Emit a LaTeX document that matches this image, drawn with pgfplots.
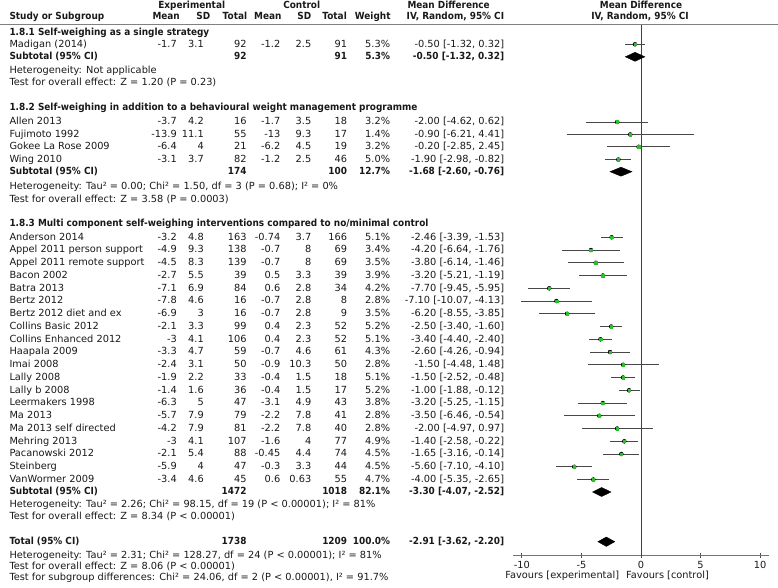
\documentclass[border=0pt]{standalone}
\usepackage{fontspec}
\setmainfont{DejaVu Sans}[BoldFeatures={FakeStretch=0.91}]
\usepackage{pgfplots}
\usepackage{pgfplotstable}
\pgfplotsset{compat=1.18}
\definecolor{boxgreen}{RGB}{45,190,45}
\definecolor{txt}{RGB}{25,25,25}

% py = row position from the top (px); md, lo, hi = mean difference and 95% CI
\pgfplotstableread{
py md lo hi w
44.3 -0.50 -1.32 0.32 5.3
122.0 -2.00 -4.62 0.62 3.2
134.5 -0.90 -6.21 4.41 1.4
146.8 -0.20 -2.85 2.45 3.2
159.6 -1.90 -2.98 -0.82 5.0
237.3 -2.46 -3.39 -1.53 5.1
250.05 -4.20 -6.64 -1.76 3.4
262.8 -3.80 -6.14 -1.46 3.5
275.55 -3.20 -5.21 -1.19 3.9
288.3 -7.70 -9.45 -5.95 4.2
301.05 -7.10 -10.07 -4.13 2.8
313.8 -6.20 -8.55 -3.85 3.5
326.55 -2.50 -3.40 -1.60 5.2
339.3 -3.40 -4.40 -2.40 5.1
352.05 -2.60 -4.26 -0.94 4.3
364.8 -1.50 -4.48 1.48 2.8
377.55 -1.50 -2.52 -0.48 5.1
390.3 -1.00 -1.88 -0.12 5.2
403.05 -3.20 -5.25 -1.15 3.8
415.8 -3.50 -6.46 -0.54 2.8
428.55 -2.00 -4.97 0.97 2.8
441.3 -1.40 -2.58 -0.22 4.9
454.05 -1.65 -3.16 -0.14 4.5
466.8 -5.60 -7.10 -4.10 4.5
479.55 -4.00 -5.35 -2.65 4.7
}\studies

\newcommand\tx[3]{\node[anchor=mid west,inner sep=0pt,text=txt] at (#1,{588-#2}) {#3};}
\newcommand\tr[3]{\node[anchor=mid east,inner sep=0pt,text=txt] at (#1,{588-#2}) {#3};}
\newcommand\tc[3]{\node[anchor=mid,inner sep=0pt,text=txt] at (#1,{588-#2}) {#3};}
\newcommand\row[9]{\tx{9.3}{#1}{#2}\tr{177}{#1}{#3}\tr{204}{#1}{#4}\tr{246.7}{#1}{#5}\tr{280.5}{#1}{#6}\tr{311.5}{#1}{#7}\tr{347.3}{#1}{#8}\tr{390.3}{#1}{#9}}
\newcommand\ci[2]{\tr{504.3}{#1}{#2}}

\begin{document}
\begin{tikzpicture}[x=1pt,y=1pt,font=\fontsize{9.8}{12}\selectfont]
\useasboundingbox (0,0) rectangle (778,588);

\begin{axis}[
  at={(512.9pt,32.3pt)}, anchor=south west,
  scale only axis, width=256.2pt, height=531.2pt,
  xmin=-10.75, xmax=10.75, ymin=32.3, ymax=563.5,
  axis x line=bottom, axis y line=none,
  x axis line style={-, draw=black!55, line width=1.3pt},
  xtick={-10,-5,0,5,10}, xticklabels={-10,-5,0,5,10},
  tick align=center, major tick length=5pt,
  tick style={draw=black!70, line width=0.7pt},
  xticklabel style={font=\fontsize{9.8}{12}\selectfont, text=txt, inner sep=1pt, yshift=-1.5pt},
  clip=false,
]
\addplot[draw=black!75, line width=0.9pt] coordinates {(0,32.3) (0,563.5)};
% confidence intervals
\addplot[only marks, mark=none, error bars/.cd, x dir=both, x explicit, error mark=none,
  error bar style={draw=black!72, line width=0.9pt}]
  table[x=md, y expr=588-\thisrow{py}, x error plus expr=\thisrow{hi}-\thisrow{md}, x error minus expr=\thisrow{md}-\thisrow{lo}] {\studies};
% point estimates
\addplot[only marks, mark=square*, mark size=1.3pt, color=boxgreen]
  table[x=md, y expr=588-\thisrow{py}] {\studies};
% pooled estimates (diamonds)
\addplot[fill=black, draw=black] coordinates {(-1.32,531.2) (-0.50,535.7) (0.32,531.2) (-0.50,526.7)} -- cycle;
\addplot[fill=black, draw=black] coordinates {(-2.60,416.3) (-1.68,420.8) (-0.76,416.3) (-1.68,411.8)} -- cycle;
\addplot[fill=black, draw=black] coordinates {(-4.07,96.0) (-3.30,100.5) (-2.52,96.0) (-3.30,91.5)} -- cycle;
\addplot[fill=black, draw=black] coordinates {(-3.62,46.3) (-2.91,51.0) (-2.20,46.3) (-2.91,41.6)} -- cycle;
\end{axis}

\draw[draw=black!50, line width=1.4pt] (0,{588-24.5}) -- (778,{588-24.5});

% headers
\tc{191.7}{5.7}{\textbf{Experimental}}
\tc{301.7}{5.7}{\textbf{Control}}
\tx{407.3}{5.7}{\textbf{Mean Difference}}
\tc{641}{5.7}{\textbf{Mean Difference}}
\tx{9.3}{16.7}{\textbf{Study or Subgroup}}
\tr{180}{16.7}{\textbf{Mean}}
\tr{210.5}{16.7}{\textbf{SD}}
\tr{247.3}{16.7}{\textbf{Total}}
\tr{281.7}{16.7}{\textbf{Mean}}
\tr{311.5}{16.7}{\textbf{SD}}
\tr{347}{16.7}{\textbf{Total}}
\tr{390.7}{16.7}{\textbf{Weight}}
\tr{504.3}{16.7}{\textbf{IV, Random, 95\% CI}}
\tc{640}{16.7}{\textbf{IV, Random, 95\% CI}}

% group 1
\tx{9.3}{32.3}{\textbf{1.8.1 Self-weighing as a single strategy}}
\row{44.3}{Madigan (2014)}{-1.7}{3.1}{92}{-1.2}{2.5}{91}{5.3\%}\ci{44.3}{-0.50 [-1.32, 0.32]}
\tx{9.3}{56.5}{\textbf{Subtotal (95\% CI)}}\tr{246.7}{56.5}{\textbf{92}}\tr{347.3}{56.5}{\textbf{91}}\tr{390.3}{56.5}{\textbf{5.3\%}}\ci{56.5}{\textbf{-0.50 [-1.32, 0.32]}}
\tx{9.3}{71}{Heterogeneity: Not applicable}
\tx{9.3}{82.5}{Test for overall effect: Z = 1.20 (P = 0.23)}

% group 2
\tx{9.3}{107.5}{\textbf{1.8.2 Self-weighing in addition to a behavioural weight management programme}}
\row{122.0}{Allen 2013}{-3.7}{4.2}{16}{-1.7}{3.5}{18}{3.2\%}\ci{122.0}{-2.00 [-4.62, 0.62]}
\row{134.5}{Fujimoto 1992}{-13.9}{11.1}{55}{-13}{9.3}{17}{1.4\%}\ci{134.5}{-0.90 [-6.21, 4.41]}
\row{146.8}{Gokee La Rose 2009}{-6.4}{4}{21}{-6.2}{4.5}{19}{3.2\%}\ci{146.8}{-0.20 [-2.85, 2.45]}
\row{159.6}{Wing 2010}{-3.1}{3.7}{82}{-1.2}{2.5}{46}{5.0\%}\ci{159.6}{-1.90 [-2.98, -0.82]}
\tx{9.3}{171.7}{\textbf{Subtotal (95\% CI)}}\tr{246.7}{171.7}{\textbf{174}}\tr{347.3}{171.7}{\textbf{100}}\tr{390.3}{171.7}{\textbf{12.7\%}}\ci{171.7}{\textbf{-1.68 [-2.60, -0.76]}}
\tx{9.3}{186.7}{Heterogeneity: Tau² = 0.00; Chi² = 1.50, df = 3 (P = 0.68); I² = 0\%}
\tx{9.3}{200}{Test for overall effect: Z = 3.58 (P = 0.0003)}

% group 3
\tx{9.3}{223.3}{\textbf{1.8.3 Multi component self-weighing interventions compared to no/minimal control}}
\row{237.3}{Anderson 2014}{-3.2}{4.8}{163}{-0.74}{3.7}{166}{5.1\%}\ci{237.3}{-2.46 [-3.39, -1.53]}
\row{250.05}{Appel 2011 person support}{-4.9}{9.3}{138}{-0.7}{8}{69}{3.4\%}\ci{250.05}{-4.20 [-6.64, -1.76]}
\row{262.8}{Appel 2011 remote support}{-4.5}{8.3}{139}{-0.7}{8}{69}{3.5\%}\ci{262.8}{-3.80 [-6.14, -1.46]}
\row{275.55}{Bacon 2002}{-2.7}{5.5}{39}{0.5}{3.3}{39}{3.9\%}\ci{275.55}{-3.20 [-5.21, -1.19]}
\row{288.3}{Batra 2013}{-7.1}{6.9}{84}{0.6}{2.8}{34}{4.2\%}\ci{288.3}{-7.70 [-9.45, -5.95]}
\row{301.05}{Bertz 2012}{-7.8}{4.6}{16}{-0.7}{2.8}{8}{2.8\%}\ci{301.05}{-7.10 [-10.07, -4.13]}
\row{313.8}{Bertz 2012 diet and ex}{-6.9}{3}{16}{-0.7}{2.8}{9}{3.5\%}\ci{313.8}{-6.20 [-8.55, -3.85]}
\row{326.55}{Collins Basic 2012}{-2.1}{3.3}{99}{0.4}{2.3}{52}{5.2\%}\ci{326.55}{-2.50 [-3.40, -1.60]}
\row{339.3}{Collins Enhanced 2012}{-3}{4.1}{106}{0.4}{2.3}{52}{5.1\%}\ci{339.3}{-3.40 [-4.40, -2.40]}
\row{352.05}{Haapala 2009}{-3.3}{4.7}{59}{-0.7}{4.6}{61}{4.3\%}\ci{352.05}{-2.60 [-4.26, -0.94]}
\row{364.8}{Imai 2008}{-2.4}{3.1}{50}{-0.9}{10.3}{50}{2.8\%}\ci{364.8}{-1.50 [-4.48, 1.48]}
\row{377.55}{Lally 2008}{-1.9}{2.2}{33}{-0.4}{1.5}{18}{5.1\%}\ci{377.55}{-1.50 [-2.52, -0.48]}
\row{390.3}{Lally b 2008}{-1.4}{1.6}{36}{-0.4}{1.5}{17}{5.2\%}\ci{390.3}{-1.00 [-1.88, -0.12]}
\row{403.05}{Leermakers 1998}{-6.3}{5}{47}{-3.1}{4.9}{43}{3.8\%}\ci{403.05}{-3.20 [-5.25, -1.15]}
\row{415.8}{Ma 2013}{-5.7}{7.9}{79}{-2.2}{7.8}{41}{2.8\%}\ci{415.8}{-3.50 [-6.46, -0.54]}
\row{428.55}{Ma 2013 self directed}{-4.2}{7.9}{81}{-2.2}{7.8}{40}{2.8\%}\ci{428.55}{-2.00 [-4.97, 0.97]}
\row{441.3}{Mehring 2013}{-3}{4.1}{107}{-1.6}{4}{77}{4.9\%}\ci{441.3}{-1.40 [-2.58, -0.22]}
\row{454.05}{Pacanowski 2012}{-2.1}{5.4}{88}{-0.45}{4.4}{74}{4.5\%}\ci{454.05}{-1.65 [-3.16, -0.14]}
\row{466.8}{Steinberg}{-5.9}{4}{47}{-0.3}{3.3}{44}{4.5\%}\ci{466.8}{-5.60 [-7.10, -4.10]}
\row{479.55}{VanWormer 2009}{-3.4}{4.6}{45}{0.6}{0.63}{55}{4.7\%}\ci{479.55}{-4.00 [-5.35, -2.65]}
\tx{9.3}{492}{\textbf{Subtotal (95\% CI)}}\tr{246.7}{492}{\textbf{1472}}\tr{347.3}{492}{\textbf{1018}}\tr{390.3}{492}{\textbf{82.1\%}}\ci{492}{\textbf{-3.30 [-4.07, -2.52]}}
\tx{9.3}{505}{Heterogeneity: Tau² = 2.26; Chi² = 98.15, df = 19 (P < 0.00001); I² = 81\%}
\tx{9.3}{516.5}{Test for overall effect: Z = 8.34 (P < 0.00001)}

% total
\tx{9.3}{541.7}{\textbf{Total (95\% CI)}}\tr{246.7}{541.7}{\textbf{1738}}\tr{347.3}{541.7}{\textbf{1209}}\tr{390.3}{541.7}{\textbf{100.0\%}}\ci{541.7}{\textbf{-2.91 [-3.62, -2.20]}}
\tx{9.3}{555.5}{Heterogeneity: Tau² = 2.31; Chi² = 128.27, df = 24 (P < 0.00001); I² = 81\%}
\tx{9.3}{567}{Test for overall effect: Z = 8.06 (P < 0.00001)}
\tx{9.3}{578}{Test for subgroup differences: Chi² = 24.06, df = 2 (P < 0.00001), I² = 91.7\%}

\tr{619.3}{576}{Favours [experimental]}
\tx{626}{576}{Favours [control]}
\end{tikzpicture}
\end{document}
